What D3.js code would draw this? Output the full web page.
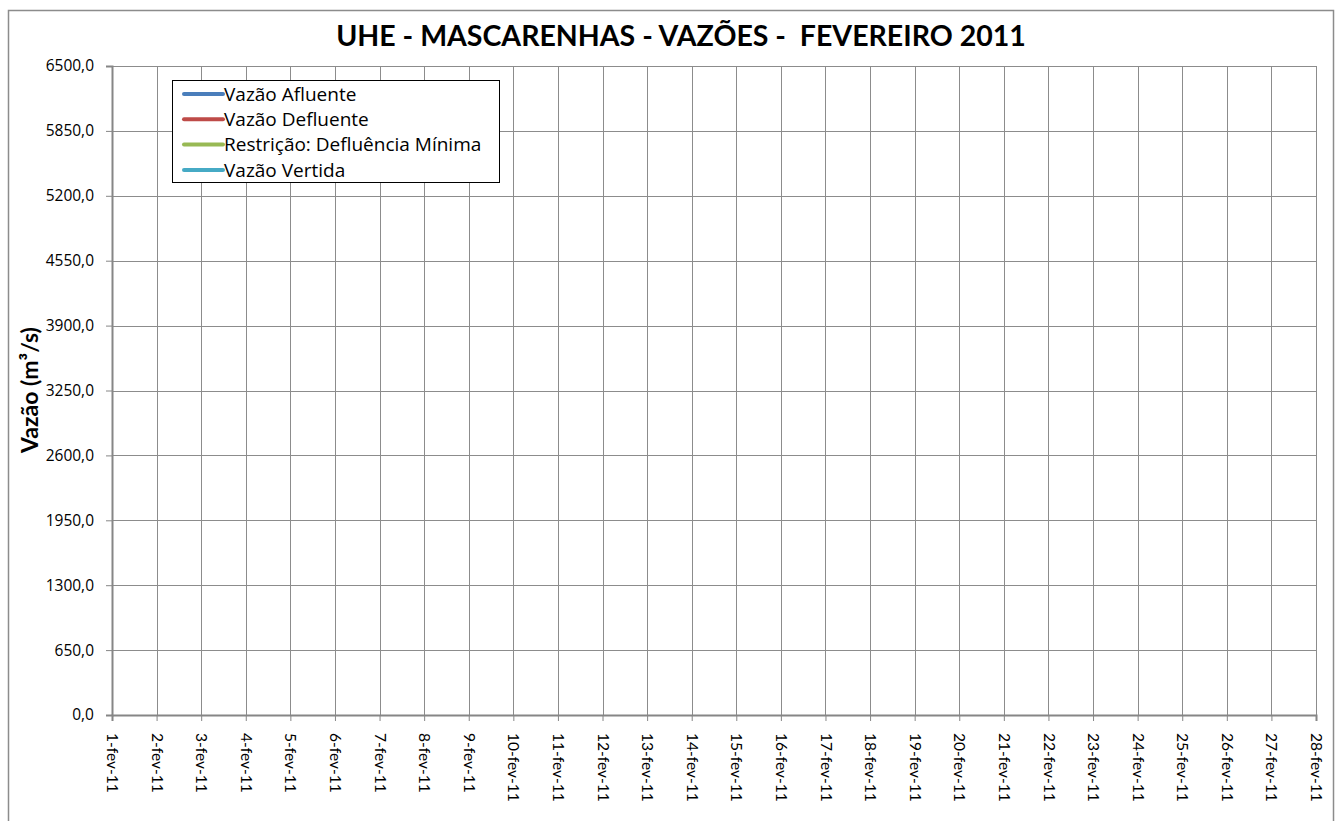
<!DOCTYPE html>
<html lang="pt">
<head>
<meta charset="UTF-8">
<title>UHE - Mascarenhas - Vazões</title>
<script src="https://cdn.jsdelivr.net/npm/d3@7"></script>
<style>
  body { margin: 0; background: #fff; }
  text { font-family: Lato, "Open Sans", sans-serif; }
</style>
</head>
<body>
<script>
// categorias (dias de fevereiro 2011)
var dias = [];
for (var i = 1; i <= 28; i++) dias.push(i + "-fev-11");

var yTicks = [0, 650, 1300, 1950, 2600, 3250, 3900, 4550, 5200, 5850, 6500];

// séries - sem dados no mês
var vazaoAfluente = [];
var vazaoDefluente = [];
var defluenciaMinima = [];
var vazaoVertida = [];

var series = [
  { nome: "Vazão Afluente", cor: "#4a7ebb", valores: vazaoAfluente },
  { nome: "Vazão Defluente", cor: "#be4b48", valores: vazaoDefluente },
  { nome: "Restrição: Defluência Mínima", cor: "#98b954", valores: defluenciaMinima },
  { nome: "Vazão Vertida", cor: "#46aac5", valores: vazaoVertida }
];

var w = 1338, h = 821;
var margin = { left: 112, right: 22, top: 66, bottom: 106 };

var svg = d3.select("body").append("svg")
  .attr("width", w)
  .attr("height", h);

// moldura externa
svg.append("rect")
  .attr("x", 8.5).attr("y", 10.5)
  .attr("width", 1325).attr("height", 830)
  .attr("fill", "none")
  .attr("stroke", "#8c8c8c")
  .attr("stroke-width", 1.5);

var xScale = d3.scalePoint()
  .domain(dias)
  .range([margin.left, w - margin.right]);

var yScale = d3.scaleLinear()
  .domain([0, 6500])
  .range([h - margin.bottom, margin.top]);

// grade
svg.append("g")
  .selectAll("line.h")
  .data(yTicks)
  .enter().append("line")
  .attr("x1", margin.left).attr("x2", w - margin.right)
  .attr("y1", function(d) { return Math.round(yScale(d)) + 0.5; })
  .attr("y2", function(d) { return Math.round(yScale(d)) + 0.5; })
  .attr("stroke", "#8c8c8c").attr("stroke-width", 1);

svg.append("g")
  .selectAll("line.v")
  .data(dias)
  .enter().append("line")
  .attr("x1", function(d) { return Math.round(xScale(d)) + 0.5; })
  .attr("x2", function(d) { return Math.round(xScale(d)) + 0.5; })
  .attr("y1", margin.top).attr("y2", h - margin.bottom)
  .attr("stroke", "#8c8c8c").attr("stroke-width", 1);

// eixos
var fmt = function(d) { return d3.format(".1f")(d).replace(".", ","); };

var yAxis = svg.append("g")
  .attr("transform", "translate(" + margin.left + ",0)")
  .call(d3.axisLeft(yScale).tickValues(yTicks).tickFormat(fmt).tickSize(6).tickPadding(12));

var xAxis = svg.append("g")
  .attr("transform", "translate(0," + (h - margin.bottom) + ")")
  .call(d3.axisBottom(xScale).tickSize(6).tickPadding(0));

svg.selectAll(".domain").attr("stroke", "#868686").attr("stroke-width", 2);
svg.selectAll(".tick line").attr("stroke", "#868686");

yAxis.selectAll("text")
  .style("font-family", "'Open Sans', sans-serif")
  .style("font-size", "15.5px")
  .attr("fill", "#000");

xAxis.selectAll("text")
  .style("font-size", "15.5px")
  .attr("fill", "#000")
  .attr("transform", "rotate(90)")
  .attr("x", 18).attr("y", 0)
  .attr("dy", "0.35em")
  .style("text-anchor", "start");

// linhas das séries
var line = d3.line()
  .defined(function(d) { return d != null; })
  .x(function(d, i) { return xScale(dias[i]); })
  .y(function(d) { return yScale(d); });

svg.append("g").selectAll("path")
  .data(series)
  .enter().append("path")
  .attr("d", function(s) { return line(s.valores); })
  .attr("fill", "none")
  .attr("stroke", function(s) { return s.cor; })
  .attr("stroke-width", 3);

// título
svg.append("text")
  .attr("x", 681).attr("y", 46)
  .attr("text-anchor", "middle")
  .style("font-size", "28.5px")
  .style("font-weight", "bold")
  .style("white-space", "pre")
  .text("UHE - MASCARENHAS - VAZÕES -  FEVEREIRO 2011");

// rótulo eixo y
svg.append("text")
  .attr("transform", "translate(38,390) rotate(-90)")
  .attr("text-anchor", "middle")
  .style("font-size", "23px")
  .style("font-weight", "bold")
  .text("Vazão (m³/s)");

// legenda
var leg = svg.append("g").attr("transform", "translate(172,80)");
leg.append("rect")
  .attr("x", 0.5).attr("y", 0.5)
  .attr("width", 327).attr("height", 102)
  .attr("fill", "#fff")
  .attr("stroke", "#000").attr("stroke-width", 1);

var item = leg.selectAll("g.item")
  .data(series)
  .enter().append("g")
  .attr("transform", function(d, i) { return "translate(0," + (14 + i * 25.3) + ")"; });

item.append("line")
  .attr("x1", 12).attr("x2", 51)
  .attr("stroke", function(d) { return d.cor; })
  .attr("stroke-width", 4)
  .attr("stroke-linecap", "round");

item.append("text")
  .attr("x", 52).attr("dy", "0.35em")
  .style("font-family", "'Open Sans', sans-serif")
  .style("font-size", "19px")
  .text(function(d) { return d.nome; });
</script>
</body>
</html>
